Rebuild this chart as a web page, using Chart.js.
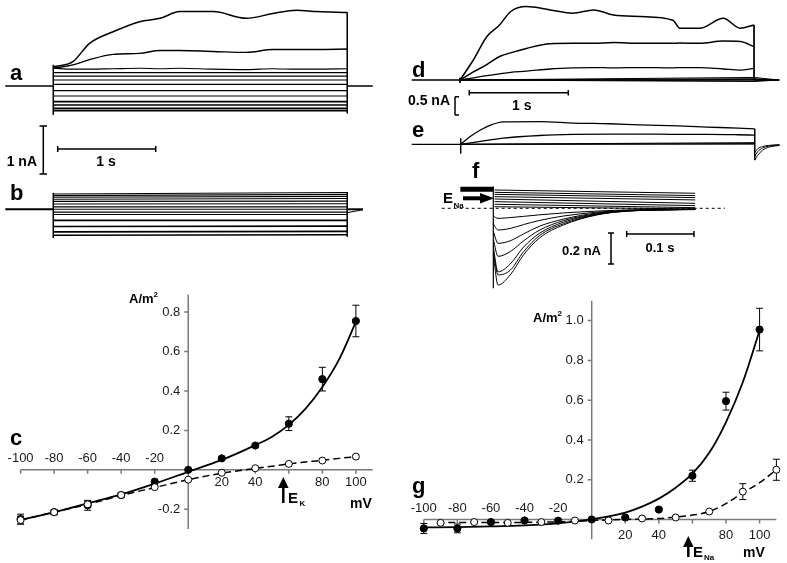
<!DOCTYPE html>
<html>
<head>
<meta charset="utf-8">
<script src="https://cdn.jsdelivr.net/npm/chart.js@4.4.0/dist/chart.umd.min.js"></script>
<style>
body { margin: 0; background: #fff; width: 787px; height: 563px; position: relative; overflow: hidden; }
canvas { position: absolute; }
svg { position: absolute; left: 0; top: 0; }
</style>
</head>
<body>
<canvas id="pa" width="380" height="120" style="left:0;top:0"></canvas>
<canvas id="pb" width="380" height="62" style="left:0;top:178px"></canvas>
<canvas id="pd" width="387" height="90" style="left:400px;top:0"></canvas>
<canvas id="pe" width="387" height="55" style="left:400px;top:110px"></canvas>
<canvas id="pf" width="300" height="120" style="left:430px;top:175px"></canvas>
<canvas id="pc" width="395" height="260" style="left:0;top:285px"></canvas>
<canvas id="pg" width="387" height="270" style="left:400px;top:285px"></canvas>

<svg width="787" height="563" font-family="Liberation Sans, Arial, sans-serif" font-weight="bold" fill="#000">
  <g stroke="#000" stroke-width="1.5" fill="none">
    <!-- scale bars a/b -->
    <path d="M43.3 126 V174 M39.5 126 H47 M39.5 174 H47"/>
    <path d="M57.7 149 H155.7 M57.7 146 V152 M155.7 146 V152"/>
    <!-- scale bars d/e -->
    <path d="M455 96.7 V115 M455 96.7 H459 M455 115 H459"/>
    <path d="M469.3 92.7 H568.3 M469.3 90 V95.5 M568.3 90 V95.5"/>
    <!-- scale bars f -->
    <path d="M611 233 V264 M608 233 H614 M608 264 H614"/>
    <path d="M626.7 234 H694 M626.7 231 V237 M694 231 V237"/>
    <!-- reversal arrows -->
    <path d="M463 198.3 H482" stroke-width="4"/>
    <path d="M283.3 503 V486" stroke-width="2.5"/>
    <path d="M688.3 557 V545" stroke-width="2.5"/>
  </g>
  <polygon points="480,193 494,198.3 480,203.6"/>
  <polygon points="278,488 283.3,477 288.6,488"/>
  <polygon points="683,547 688.3,536 693.6,547"/>

  <g font-size="22">
    <text x="10" y="80">a</text>
    <text x="10" y="200">b</text>
    <text x="10" y="445">c</text>
    <text x="412" y="77">d</text>
    <text x="412" y="137">e</text>
    <text x="472" y="178">f</text>
    <text x="412" y="493">g</text>
  </g>
  <g font-size="14">
    <text x="37" y="166" text-anchor="end">1 nA</text>
    <text x="106" y="166" text-anchor="middle">1 s</text>
    <text x="408" y="105">0.5 nA</text>
    <text x="521.7" y="110" text-anchor="middle">1 s</text>
    <text x="601" y="255" text-anchor="end" font-size="13">0.2 nA</text>
    <text x="660" y="252" text-anchor="middle" font-size="13">0.1 s</text>
    <text x="350" y="508">mV</text>
    <text x="743" y="557">mV</text>
    <text x="443" y="203" font-size="15">E</text>
    <text x="288" y="503" font-size="15">E</text>
    <text x="693" y="557" font-size="15">E</text>
  </g>
  <g font-size="8">
    <text x="453.5" y="207.5">Na</text>
    <text x="299.5" y="506">K</text>
    <text x="704" y="559.5">Na</text>
  </g>
  <g font-size="13">
    <text x="129" y="303">A/m<tspan font-size="8" dy="-6">2</tspan></text>
    <text x="533" y="322">A/m<tspan font-size="8" dy="-6">2</tspan></text>
  </g>
</svg>

<script>
// ---------- a : outward currents, 3 s steps (nA vs s) ----------
const aTime = [0, 0.2, 0.37, 0.61, 0.88, 1.09, 1.29, 1.63, 1.97, 2.24, 2.48, 2.69, 3.0];
const aTop  = [0.40, 0.51, 0.89, 1.13, 1.34, 1.41, 1.55, 1.55, 1.41, 1.51, 1.58, 1.55, 1.53];
const aMid  = [0.37, 0.44, 0.55, 0.66, 0.68, 0.74, 0.74, 0.72, 0.70, 0.76, 0.76, 0.76, 0.77];
const aLow  = [0.37, 0.35, 0.35, 0.36, 0.37, 0.36, 0.37, 0.35, 0.34, 0.36, 0.35, 0.35, 0.36];
const aLevels = [0.277, 0.208, 0.125, 0.035, -0.097, -0.208, -0.327, -0.396, -0.465, -0.514];

// ---------- b ----------
const bStart = [0.32, 0.285, 0.25, 0.21, 0.165, 0.11, 0.05, 0.0, -0.06, -0.11, -0.23, -0.36, -0.47, -0.54];
const bEnd   = [0.35, 0.31, 0.27, 0.225, 0.17, 0.115, 0.05, 0.0, -0.06, -0.11, -0.23, -0.35, -0.46, -0.53];

// ---------- d ----------
const dTime = [0, 0.135, 0.27, 0.40, 0.51, 0.67, 0.91, 1.14, 1.35, 1.55, 1.82, 2.15, 2.22, 2.42, 2.66, 2.83, 2.97];
const dTop  = [0, 0.545, 1.18, 1.50, 1.86, 2.0, 1.91, 1.82, 1.91, 1.77, 1.73, 1.63, 1.41, 1.41, 1.68, 1.41, 1.50];
const dMid  = [0, 0.22, 0.42, 0.64, 0.74, 0.86, 0.99, 1.0, 1.0, 1.02, 1.0, 1.0, 1.01, 1.0, 1.06, 1.05, 0.91];
const dLow  = [0, 0.06, 0.12, 0.17, 0.21, 0.24, 0.30, 0.33, 0.34, 0.33, 0.34, 0.33, 0.34, 0.34, 0.30, 0.27, 0.32];
const dSmallEnd = [0.07, 0.035, 0.015, -0.02, -0.04];

// ---------- e ----------
const eTime = [0, 0.1, 0.2, 0.3, 0.43, 0.8, 1.14, 1.5, 1.81, 2.2, 2.49, 2.8, 2.97];
const eTop  = [0, 0.22, 0.39, 0.52, 0.61, 0.62, 0.58, 0.56, 0.53, 0.50, 0.47, 0.44, 0.42];
const eMid  = [0, 0.04, 0.08, 0.12, 0.17, 0.24, 0.27, 0.28, 0.28, 0.27, 0.27, 0.26, 0.25];
const eSmallEnd = [0.045, 0.02, 0.005];
const eTailTime = [2.97, 3.0, 3.05, 3.11, 3.22];
const eTails = [
  [-0.43, -0.30, -0.16, -0.08, -0.03],
  [-0.33, -0.20, -0.10, -0.05, -0.02],
  [-0.22, -0.12, -0.06, -0.03, -0.01]
];

// ---------- f : inward Na currents (nA vs s) ----------
const fTime = [0, 0.007, 0.025, 0.045, 0.069, 0.104, 0.154, 0.203, 0.25, 0.30];
const fInward = [
  [-0.30, -0.495, -0.43, -0.30, -0.19, -0.108, -0.043, -0.017, -0.010, -0.006],
  [-0.28, -0.43, -0.40, -0.28, -0.175, -0.10, -0.040, -0.017, -0.010, -0.006],
  [-0.25, -0.41, -0.36, -0.25, -0.16, -0.09, -0.038, -0.016, -0.010, -0.007],
  [-0.20, -0.31, -0.28, -0.21, -0.14, -0.08, -0.035, -0.015, -0.010, -0.008],
  [-0.15, -0.226, -0.21, -0.165, -0.115, -0.07, -0.030, -0.014, -0.010, -0.008],
  [-0.10, -0.14, -0.13, -0.105, -0.078, -0.05, -0.025, -0.013, -0.009, -0.007],
  [-0.05, -0.065, -0.06, -0.052, -0.042, -0.03, -0.018, -0.010, -0.007, -0.006]
];
const fOutStart = [0.118, 0.103, 0.09, 0.075, 0.06, 0.043, 0.026, 0.01];
const fOutEnd   = [0.097, 0.082, 0.069, 0.054, 0.032, 0.017, 0.004, -0.004];
const fHold = 0.123;

// ---------- c : K current-voltage ----------
const ivVolts = [-100, -80, -60, -40, -20, 0, 20, 40, 60, 80, 100];
const cFilled    = [-0.25, -0.215, -0.18, -0.128, -0.06, 0.0, 0.058, 0.123, 0.234, 0.46, 0.755];
const cFilledErr = [0.025, 0.01, 0.025, 0.008, 0, 0, 0, 0.01, 0.035, 0.06, 0.08];
const cOpen      = [-0.255, -0.215, -0.175, -0.128, -0.088, -0.05, -0.015, 0.008, 0.03, 0.047, 0.067];
const cOpenErr   = [0.02, 0.012, 0.015, 0.012, 0, 0, 0, 0, 0, 0, 0];
const cFitVolts  = [-100, -80, -60, -40, -20, 0, 20, 40, 50, 60, 70, 80, 90, 100];
const cFitSolid  = [-0.255, -0.215, -0.17, -0.125, -0.07, -0.01, 0.05, 0.125, 0.168, 0.228, 0.31, 0.42, 0.56, 0.75];
const cFitDashed = [-0.255, -0.215, -0.175, -0.13, -0.09, -0.05, -0.017, 0.007, 0.018, 0.03, 0.04, 0.048, 0.058, 0.067];
const ivTicksX  = [-100, -80, -60, -40, -20, 20, 40, 60, 80, 100];
const ivLabelsX = [-100, -80, -60, -40, -20, 20, 40, 80, 100];   // 60 is hidden by the arrow
const cTicksY = [0.8, 0.6, 0.4, 0.2, -0.2];

// ---------- g : Na current-voltage ----------
const gFilled    = [-0.045, -0.045, -0.013, -0.005, -0.006, 0.0, 0.01, 0.05, 0.22, 0.595, 0.955];
const gFilledErr = [0.025, 0.022, 0.008, 0.006, 0.006, 0, 0.005, 0.006, 0.028, 0.045, 0.107];
const gOpenVolts = [-90, -70, -50, -30, -10, 10, 30, 50, 70, 90, 110];
const gOpen      = [-0.017, -0.013, -0.017, -0.013, -0.005, -0.005, 0.005, 0.01, 0.04, 0.14, 0.25];
const gOpenErr   = [0, 0, 0, 0, 0, 0, 0, 0, 0, 0.04, 0.053];
const gFitVolts  = [-100, -80, -60, -40, -20, 0, 10, 20, 30, 40, 50, 60, 70, 80, 90, 100];
const gFitSolid  = [-0.04, -0.038, -0.035, -0.03, -0.02, 0.0, 0.015, 0.035, 0.065, 0.105, 0.16, 0.23, 0.335, 0.49, 0.69, 0.95];
const gDashVolts = [-92, -60, -20, 0, 20, 40, 50, 60, 70, 80, 90, 100, 110];
const gFitDashed = [-0.015, -0.015, -0.012, -0.005, 0.0, 0.005, 0.012, 0.022, 0.04, 0.08, 0.135, 0.185, 0.25];
const gTicksY = [1.0, 0.8, 0.6, 0.4, 0.2];

const pts = (xs, ys) => xs.map((x, i) => ({ x, y: ys[i] }));
const smooth = { cubicInterpolationMode: 'monotone' };
const straight = { cubicInterpolationMode: 'default', tension: 0 };
const trace = (data, w, extra) => Object.assign({
  data, showLine: true, borderColor: '#000', borderWidth: w || 1.2,
  pointRadius: 0, fill: false
}, smooth, extra || {});
const seg = (xs, ys, w) => trace(pts(xs, ys), w || 1.2, straight);
const last = arr => arr[arr.length - 1];

function traceChart(id, x0, x1, y0, y1, datasets) {
  return new Chart(document.getElementById(id), {
    type: 'scatter',
    data: { datasets },
    options: {
      responsive: false, animation: false,
      layout: { padding: 0 },
      plugins: { legend: { display: false }, tooltip: { enabled: false } },
      scales: {
        x: { type: 'linear', display: false, min: x0, max: x1 },
        y: { type: 'linear', display: false, min: y0, max: y1 }
      }
    }
  });
}

// a
traceChart('pa', -0.544, 3.334, -0.708, 1.792, [
  trace(pts(aTime, aTop), 1.5),
  trace(pts(aTime, aMid), 1.4),
  trace(pts(aTime, aLow), 1.2),
  ...aLevels.map((v, i) => seg([0, 3.0], [v, v], i > 5 ? 1.7 : 1.2)),
  seg([-0.49, 0], [0, 0], 1.5),
  seg([0, 0], [aTop[0] + 0.04, -0.6], 1),
  seg([3.0, 3.0], [last(aTop), -0.57], 1),
  seg([3.0, 3.26], [0, 0], 1.5)
]);

// b
traceChart('pb', -0.544, 3.334, -0.640, 0.652, [
  ...bStart.map((v, i) => seg([0, 3.0], [v, bEnd[i]], i > 9 ? 1.6 : 1.1)),
  seg([-0.49, 0], [0, 0], 2),
  seg([0, 0], [0.34, -0.6], 1),
  seg([3.0, 3.0], [0.36, -0.57], 1),
  seg([3.0, 3.16], [0, 0], 2),
  seg([3.0, 3.16], [-0.07, -0.01], 1)
]);

// d
traceChart('pd', -0.606, 3.303, -0.272, 2.18, [
  trace(pts(dTime, dTop), 1.5),
  trace(pts(dTime, dMid), 1.5),
  trace(pts(dTime, dLow), 1.3),
  ...dSmallEnd.map(v => seg([0, 2.97, 3.22], [0, v, 0], 1)),
  seg([-0.488, 0], [0, 0], 1.3),
  seg([0, 0], [0.06, -0.08], 1),
  seg([2.97, 2.97], [last(dTop), 0], 1),
  seg([2.97, 3.23], [0, 0], 1.3)
]);

// e
traceChart('pe', -0.613, 3.296, -0.564, 0.935, [
  trace(pts(eTime, eTop), 1.3),
  trace(pts(eTime, eMid), 1.3),
  ...eSmallEnd.map(v => seg([0, 2.97], [0, v], 1)),
  ...eTails.map(t => trace(pts(eTailTime, t), 1)),
  seg([-0.495, 0], [0, 0], 1.3),
  seg([0, 0], [0.16, -0.25], 1),
  seg([2.97, 2.97], [last(eTop), eTails[0][0]], 1)
]);

// f
traceChart('pf', -0.0941, 0.3517, -0.5594, 0.2148, [
  ...fInward.map(v => trace(pts(fTime, v), 1)),
  ...fOutStart.map((v, i) => seg([0.002, 0.30], [v, fOutEnd[i]], 1)),
  seg([-0.049, 0], [fHold, fHold], 5),
  seg([0, 0], [0.14, -0.516], 1.2),
  Object.assign(seg([-0.0767, 0.344], [0, 0], 1), { borderDash: [3, 3] })
]);

// axes crossing at the origin, tick labels and error bars
const crossAxes = {
  id: 'crossAxes',
  beforeDatasetsDraw(chart, args, o) {
    const { ctx } = chart;
    const sx = chart.scales.x, sy = chart.scales.y;
    const x0 = sx.getPixelForValue(0), y0 = sy.getPixelForValue(0);
    ctx.save();
    ctx.strokeStyle = '#7a7a7a';
    ctx.lineWidth = 1.5;
    ctx.beginPath();
    ctx.moveTo(sx.getPixelForValue(o.xRange[0]), y0);
    ctx.lineTo(sx.getPixelForValue(o.xRange[1]), y0);
    ctx.moveTo(x0, sy.getPixelForValue(o.yRange[0]));
    ctx.lineTo(x0, sy.getPixelForValue(o.yRange[1]));
    o.xTicks.forEach(v => {
      const p = sx.getPixelForValue(v);
      ctx.moveTo(p, y0); ctx.lineTo(p, y0 + 4);
    });
    o.yTicks.forEach(v => {
      const p = sy.getPixelForValue(v);
      ctx.moveTo(x0, p); ctx.lineTo(x0 - 4, p);
    });
    ctx.stroke();

    ctx.fillStyle = '#1a1a1a';
    ctx.font = '13px "Liberation Sans", Arial, sans-serif';
    ctx.textAlign = 'center';
    ctx.textBaseline = 'middle';
    o.xLabels.forEach(v => {
      ctx.fillText(String(v), sx.getPixelForValue(v), v < 0 ? y0 - o.negGap : y0 + o.posGap);
    });
    ctx.textAlign = 'right';
    o.yTicks.forEach(v => ctx.fillText(v.toFixed(1), x0 - 8, sy.getPixelForValue(v)));

    ctx.strokeStyle = '#000';
    ctx.lineWidth = 1;
    chart.data.datasets.forEach(ds => {
      if (!ds.errors) return;
      ds.data.forEach((p, j) => {
        const e = ds.errors[j];
        if (!e) return;
        const px = sx.getPixelForValue(p.x);
        const t = sy.getPixelForValue(p.y + e), b = sy.getPixelForValue(p.y - e);
        ctx.beginPath();
        ctx.moveTo(px, t); ctx.lineTo(px, b);
        ctx.moveTo(px - 3.5, t); ctx.lineTo(px + 3.5, t);
        ctx.moveTo(px - 3.5, b); ctx.lineTo(px + 3.5, b);
        ctx.stroke();
      });
    });
    ctx.restore();
  }
};

function ivChart(id, x0, x1, y0, y1, axes, datasets) {
  return new Chart(document.getElementById(id), {
    type: 'scatter',
    data: { datasets },
    options: {
      responsive: false, animation: false,
      layout: { padding: 0 },
      plugins: { legend: { display: false }, tooltip: { enabled: false }, crossAxes: axes },
      scales: {
        x: { type: 'linear', display: false, min: x0, max: x1 },
        y: { type: 'linear', display: false, min: y0, max: y1 }
      }
    },
    plugins: [crossAxes]
  });
}

const openDots = (data, errors) => ({ data, errors, pointRadius: 3.5, pointBackgroundColor: '#fff', pointBorderColor: '#000', pointBorderWidth: 1, showLine: false });
const filledDots = (data, errors) => ({ data, errors, pointRadius: 3.6, pointBackgroundColor: '#000', pointBorderColor: '#000', pointBorderWidth: 1, showLine: false });

ivChart('pc', -109.3, 120.35, -0.3561, 0.9122,
  { xRange: [-100, 110], yRange: [-0.30, 0.89], xTicks: ivTicksX, xLabels: ivLabelsX, yTicks: cTicksY, negGap: 11, posGap: 13 },
  [
    openDots(pts(ivVolts, cOpen), cOpenErr),
    filledDots(pts(ivVolts, cFilled), cFilledErr),
    trace(pts(cFitVolts, cFitSolid), 1.8),
    trace(pts(cFitVolts, cFitDashed), 1.5, { borderDash: [7, 4] })
  ]);

ivChart('pg', -111.2, 113.35, -0.1535, 1.154,
  { xRange: [-100, 110], yRange: [-0.10, 1.10], xTicks: ivTicksX, xLabels: ivLabelsX, yTicks: gTicksY, negGap: 11, posGap: 16 },
  [
    openDots(pts(gOpenVolts, gOpen), gOpenErr),
    filledDots(pts(ivVolts, gFilled), gFilledErr),
    trace(pts(gFitVolts, gFitSolid), 1.8),
    trace(pts(gDashVolts, gFitDashed), 1.5, { borderDash: [7, 4] })
  ]);
</script>
</body>
</html>
